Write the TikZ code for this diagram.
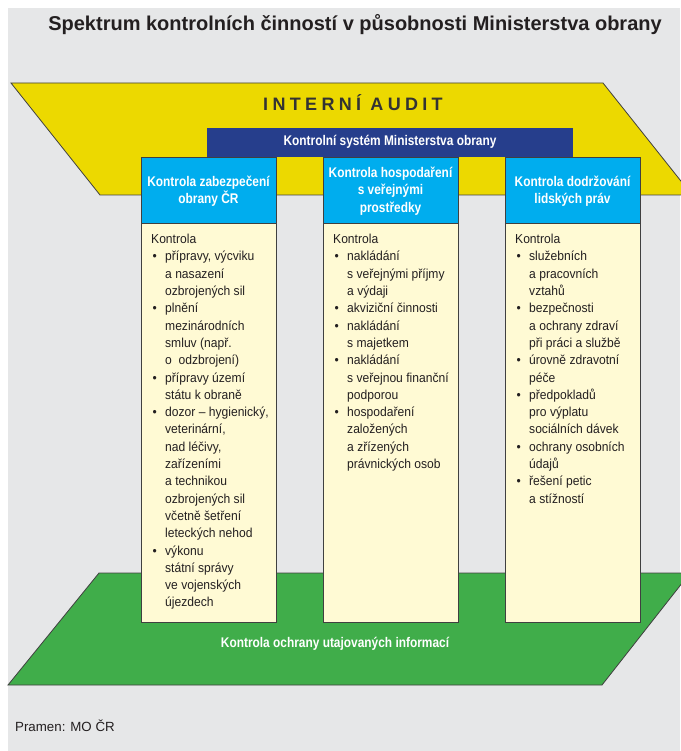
\documentclass[tikz,border=0pt]{standalone}
\usepackage{fontspec}
\setmainfont{Liberation Sans}
\newfontfamily\headfont[FakeStretch=0.85]{Liberation Sans}
\newfontfamily\bodyfont[FakeStretch=0.93]{Liberation Sans}
\newfontfamily\auditfont[LetterSpace=24]{Liberation Sans}
\usetikzlibrary{positioning}

\definecolor{panel}{RGB}{230,231,232}
\definecolor{audityellow}{RGB}{236,217,0}
\definecolor{sysblue}{RGB}{38,62,140}
\definecolor{headcyan}{RGB}{0,173,238}
\definecolor{cream}{RGB}{255,250,212}
\definecolor{infogreen}{RGB}{64,173,74}
\definecolor{ink}{RGB}{35,31,32}

\newcommand{\itembul}{\makebox[14pt][l]{\hspace{1.5pt}•}}
\newcommand{\itemind}{\hspace*{14pt}}

\tikzset{
    frame/.style={draw=black!75, line width=0.8pt},
    head/.style={text=white, align=center, inner sep=0pt,
        font=\headfont\bfseries\fontsize{14}{17.3}\selectfont},
    body/.style={text=ink, align=left, anchor=north west, inner sep=0pt,
        font=\bodyfont\fontsize{13}{17.3}\selectfont},
}

\begin{document}
\begin{tikzpicture}[x=1pt,y=-1pt]
    \useasboundingbox (0,0) rectangle (680,751);
    \fill[panel] (8,8) rectangle (680,751);

    \draw[frame, fill=audityellow] (11,83) -- (603,83) -- (692,195) -- (100,195) -- cycle;
    \fill[sysblue] (207,128) rectangle (573,157);
    \draw[frame, fill=infogreen] (99,573) -- (690,573) -- (602,685) -- (8,685) -- cycle;

    \foreach \x in {141,323,505}
    {
        \draw[frame, fill=headcyan] (\x,157) rectangle ++(135,66);
        \draw[frame, fill=cream] (\x,223) rectangle ++(135,399);
    }

    \node[font=\bfseries\fontsize{20}{24}\selectfont, text=ink] at (355,25) (title)
        {Spektrum kontrolních činností v působnosti Ministerstva obrany};
    \node[font=\auditfont\bfseries\fontsize{18}{21}\selectfont, text=black!80] at (353,103) (audit) {INTERNÍ AUDIT};
    \node[head] at (390,142) (system) {Kontrolní systém Ministerstva obrany};
    \node[head] at (335,644) (secret) {Kontrola ochrany utajovaných informací};

    \node[head] at (208.5,191) (h1) {Kontrola zabezpečení\\obrany ČR};
    \node[head] at (390.5,191) (h2) {Kontrola hospodaření\\s veřejnými\\prostředky};
    \node[head] at (572.5,191) (h3) {Kontrola dodržování\\lidských práv};

    \node[body] at (151,234) (b1) {Kontrola\\
        \itembul přípravy, výcviku\\
        \itemind a nasazení\\
        \itemind ozbrojených sil\\
        \itembul plnění\\
        \itemind mezinárodních\\
        \itemind smluv (např.\\
        \itemind o\ \ odzbrojení)\\
        \itembul přípravy území\\
        \itemind státu k obraně\\
        \itembul dozor – hygienický,\\
        \itemind veterinární,\\
        \itemind nad léčivy,\\
        \itemind zařízeními\\
        \itemind a technikou\\
        \itemind ozbrojených sil\\
        \itemind včetně šetření\\
        \itemind leteckých nehod\\
        \itembul výkonu\\
        \itemind státní správy\\
        \itemind ve vojenských\\
        \itemind újezdech};
    \node[body] at (333,234) (b2) {Kontrola\\
        \itembul nakládání\\
        \itemind s veřejnými příjmy\\
        \itemind a výdaji\\
        \itembul akviziční činnosti\\
        \itembul nakládání\\
        \itemind s majetkem\\
        \itembul nakládání\\
        \itemind s veřejnou finanční\\
        \itemind podporou\\
        \itembul hospodaření\\
        \itemind založených\\
        \itemind a zřízených\\
        \itemind právnických osob};
    \node[body] at (515,234) (b3) {Kontrola\\
        \itembul služebních\\
        \itemind a pracovních\\
        \itemind vztahů\\
        \itembul bezpečnosti\\
        \itemind a ochrany zdraví\\
        \itemind při práci a službě\\
        \itembul úrovně zdravotní\\
        \itemind péče\\
        \itembul předpokladů\\
        \itemind pro výplatu\\
        \itemind sociálních dávek\\
        \itembul ochrany osobních\\
        \itemind údajů\\
        \itembul řešení petic\\
        \itemind a stížností};

    \node[text=ink, anchor=base west, inner sep=0pt, font=\fontsize{13.3}{16}\selectfont] at (15,731) (source) {Pramen: MO ČR};
\end{tikzpicture}
\end{document}
